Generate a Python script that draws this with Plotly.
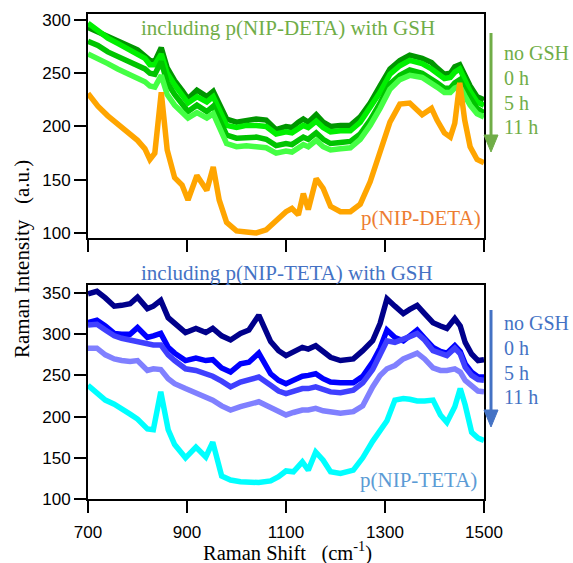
import plotly.graph_objects as go

# ---------------- data: top panel (p(NIP-DETA)) ----------------
x_top = [700, 720, 740, 760, 780, 800, 815, 825, 835, 848, 860, 875, 890, 902, 920, 940, 953, 965,
         980, 1000, 1020, 1040, 1060, 1080, 1100, 1112, 1125, 1135, 1145, 1161, 1175, 1190, 1210,
         1230, 1250, 1270, 1290, 1310, 1330, 1350, 1375, 1394, 1405, 1420, 1432, 1441, 1451, 1461,
         1472, 1486, 1500]

deta_noGSH = [293, 289, 284, 280, 276, 272, 266, 262, 261, 274, 255, 243, 234, 226, 234, 228, 233, 222,
              207, 204, 206, 207, 206, 197, 200, 199, 204, 207, 204, 211, 204, 200, 201,
              201, 209, 222, 238, 254, 262, 267, 264, 260, 255, 249, 250, 256, 258, 248,
              238, 228, 225]
deta_0h = [297, 290, 283, 278, 273, 268, 264, 258, 258, 268, 250, 239, 230, 222, 228, 223, 228, 216,
           201, 199, 201, 201, 200, 193, 195, 194, 198, 201, 199, 205, 199, 195, 196,
           196, 204, 217, 232, 249, 257, 262, 259, 254, 250, 245, 246, 251, 254, 244,
           233, 223, 220]
deta_5h = [280, 276, 270, 266, 262, 258, 254, 250, 249, 261, 241, 230, 221, 214, 220, 214, 219, 207,
           192, 189, 190, 190, 188, 182, 184, 183, 187, 190, 188, 194, 188, 184, 185,
           186, 193, 206, 222, 240, 248, 253, 250, 245, 241, 236, 236, 241, 244, 235,
           226, 217, 213]
deta_11h = [268, 264, 259, 254, 250, 246, 242, 238, 237, 248, 230, 220, 213, 208, 213, 208, 212, 199,
            184, 181, 182, 181, 180, 175, 177, 176, 180, 183, 181, 187, 181, 178, 179,
            180, 188, 201, 217, 235, 244, 248, 246, 241, 237, 232, 232, 236, 238, 229,
            220, 212, 209]
deta_ref = [231, 219, 210, 202, 195, 187, 179, 169, 175, 232, 178, 152, 145, 131, 154, 140, 162, 131,
            110, 102, 101, 100, 103, 112, 120, 123, 117, 137, 122, 151, 142, 125, 120,
            120, 127, 148, 175, 204, 221, 222, 211, 217, 206, 194, 190, 203, 241, 206,
            181, 169, 166]

# ---------------- data: bottom panel (p(NIP-TETA)) ----------------
x_bot = [700, 718, 735, 753, 768, 785, 800, 820, 832, 847, 862, 875, 897, 918, 938, 952, 970, 988,
         1008, 1025, 1045, 1069, 1085, 1100, 1115, 1133, 1145, 1160, 1175, 1190, 1210, 1236, 1255,
         1275, 1290, 1304, 1320, 1337, 1350, 1365, 1380, 1397, 1412, 1425, 1441, 1452, 1462, 1475,
         1488, 1500]

teta_noGSH = [349, 352, 344, 334, 335, 337, 345, 331, 334, 341, 320, 313, 302, 307, 302, 307, 298, 293,
              301, 305, 323, 291, 280, 274, 279, 284, 282, 286, 279, 272, 268, 270, 280,
              292, 313, 343, 334, 325, 330, 335, 325, 314, 310, 307, 319, 310, 290, 276,
              268, 269]
teta_0h = [314, 317, 310, 301, 300, 300, 308, 296, 298, 301, 284, 277, 268, 271, 268, 269, 259, 254,
           264, 266, 277, 252, 244, 240, 244, 249, 250, 252, 246, 242, 241, 241, 249,
           266, 283, 305, 296, 292, 298, 305, 295, 284, 279, 277, 286, 279, 264, 254,
           248, 248]
teta_5h = [311, 312, 305, 298, 295, 293, 292, 289, 287, 287, 275, 268, 258, 256, 252, 249, 243, 236,
           242, 244, 248, 238, 231, 228, 231, 234, 234, 236, 233, 230, 229, 232, 241,
           257, 275, 292, 290, 293, 297, 301, 293, 280, 276, 274, 283, 276, 260, 250,
           245, 244]
teta_11h = [283, 283, 275, 270, 268, 267, 268, 256, 258, 257, 246, 240, 234, 228, 223, 220, 213, 208,
            212, 215, 218, 211, 206, 202, 205, 208, 208, 210, 207, 205, 204, 206, 213,
            236, 250, 258, 262, 270, 274, 277, 270, 259, 256, 256, 258, 254, 244, 237,
            231, 230]
teta_ref = [238, 228, 220, 215, 210, 203, 197, 185, 184, 230, 184, 166, 150, 163, 151, 169, 128, 123,
            121, 120, 120, 122, 127, 134, 133, 145, 135, 157, 147, 133, 131, 135, 150,
            170, 184, 195, 220, 222, 221, 219, 219, 220, 202, 193, 212, 234, 214, 181,
            174, 171]

x_ticks = [700, 900, 1100, 1300, 1500]
y_ticks_top = [100, 150, 200, 250, 300]
y_ticks_bot = [100, 150, 200, 250, 300, 350]
legend_labels = ["no GSH", "0 h", "5 h", "11 h"]

top_colors = ["#009600", "#00F000", "#00C400", "#44FF44"]
top_ref_color = "#FFA500"
bot_colors = ["#00008B", "#0000FF", "#4040FF", "#8080FF"]
bot_ref_color = "#00FFFF"

GREEN_TXT = "#70AD47"
ORANGE_TXT = "#ED7D31"
BLUE_TXT = "#4472C4"
LBLUE_TXT = "#5B9BD5"

# ---------------- layout geometry (page pixels) ----------------
W, H = 573, 563
L, R, T, B = 88, 484, 14, 499   # plot-area edges


def pxx(px):
    return (px - L) / (R - L)


def pxy(py):
    return (B - py) / (B - T)


fig = go.Figure()
LW = 5.5
for ys, c, name in zip([deta_noGSH, deta_0h, deta_5h, deta_11h], top_colors, legend_labels):
    fig.add_trace(go.Scatter(x=x_top, y=ys, mode="lines", name=name,
                             line=dict(color=c, width=LW), xaxis="x", yaxis="y"))
fig.add_trace(go.Scatter(x=x_top, y=deta_ref, mode="lines", name="p(NIP-DETA)",
                         line=dict(color=top_ref_color, width=LW), xaxis="x", yaxis="y"))
for ys, c, name in zip([teta_noGSH, teta_0h, teta_5h, teta_11h], bot_colors, legend_labels):
    fig.add_trace(go.Scatter(x=x_bot, y=ys, mode="lines", name=name,
                             line=dict(color=c, width=LW), xaxis="x2", yaxis="y2"))
fig.add_trace(go.Scatter(x=x_bot, y=teta_ref, mode="lines", name="p(NIP-TETA)",
                         line=dict(color=bot_ref_color, width=LW), xaxis="x2", yaxis="y2"))

tickfont = dict(family="Liberation Sans, Arial", size=17, color="black")
axis_common = dict(showline=True, linecolor="black", linewidth=2, mirror=True,
                   ticks="outside", ticklen=12, tickwidth=2, tickcolor="black",
                   showgrid=False, zeroline=False, tickfont=tickfont)

top_dom = [pxy(238), 1.0]
bot_dom = [0.0, pxy(285)]

fig.update_layout(
    width=W, height=H,
    margin=dict(l=L, r=W - R, t=T, b=H - B, pad=0),
    plot_bgcolor="white", paper_bgcolor="white",
    showlegend=False,
    xaxis=dict(domain=[0, 1], range=[700, 1500], tickvals=x_ticks, showticklabels=False,
               anchor="y", **axis_common),
    yaxis=dict(domain=top_dom, range=[95.3, 305.6], tickvals=y_ticks_top, anchor="x",
               **axis_common),
    xaxis2=dict(domain=[0, 1], range=[700, 1500], tickvals=x_ticks, anchor="y2",
                ticklabelstandoff=5, **axis_common),
    yaxis2=dict(domain=bot_dom, range=[100, 359.7], tickvals=y_ticks_bot, anchor="x2",
                **axis_common),
)

serif = "Liberation Serif, Times New Roman"
NB = "\u00a0"
ann = []


def text(s, px, py, color, size=21, xanchor="left", angle=0):
    ann.append(dict(text=s, x=pxx(px), y=pxy(py), xref="paper", yref="paper",
                    xanchor=xanchor, yanchor="middle", showarrow=False, textangle=angle,
                    font=dict(family=serif, size=size, color=color)))


# top panel texts
text("including p(NIP-DETA) with GSH", 139, 28, GREEN_TXT)
text("p(NIP-DETA)", 359, 218, ORANGE_TXT)
for lab, py in zip(legend_labels, [53, 78, 103, 127]):
    text(lab, 502, py, GREEN_TXT, size=20)
# bottom panel texts
text("including p(NIP-TETA) with GSH", 139, 273, BLUE_TXT)
text("p(NIP-TETA)", 358, 480, LBLUE_TXT)
for lab, py in zip(legend_labels, [323, 348, 373, 397]):
    text(lab, 502, py, BLUE_TXT, size=20)

# axis titles
text("Raman Intensity" + NB * 3 + "(a.u.)", 22, 259, "black", xanchor="center", angle=-90)
text("Raman Shift" + NB * 3 + "(cm<sup>-1</sup>)", 287, 551, "black", size=20.5, xanchor="center")

fig.update_layout(annotations=ann)

# arrows drawn as shapes (shaft + triangular head)
shapes = []
for col, ytop, ytip in [(GREEN_TXT, 33, 152), (BLUE_TXT, 310, 427)]:
    xa = pxx(491)
    hw = 7 / (R - L)
    hl = 17 / (B - T)
    shapes.append(dict(type="line", xref="paper", yref="paper", x0=xa, x1=xa,
                       y0=pxy(ytop), y1=pxy(ytip) + hl * 0.5, line=dict(color=col, width=3)))
    path = (f"M {xa - hw} {pxy(ytip) + hl} L {xa + hw} {pxy(ytip) + hl} "
            f"L {xa} {pxy(ytip)} Z")
    shapes.append(dict(type="path", xref="paper", yref="paper", path=path,
                       fillcolor=col, line=dict(color=col, width=1)))
fig.update_layout(shapes=shapes)

fig.write_html("out.html", config={"displayModeBar": False},
               post_script="document.body.style.margin='0';document.body.style.overflow='hidden';")
